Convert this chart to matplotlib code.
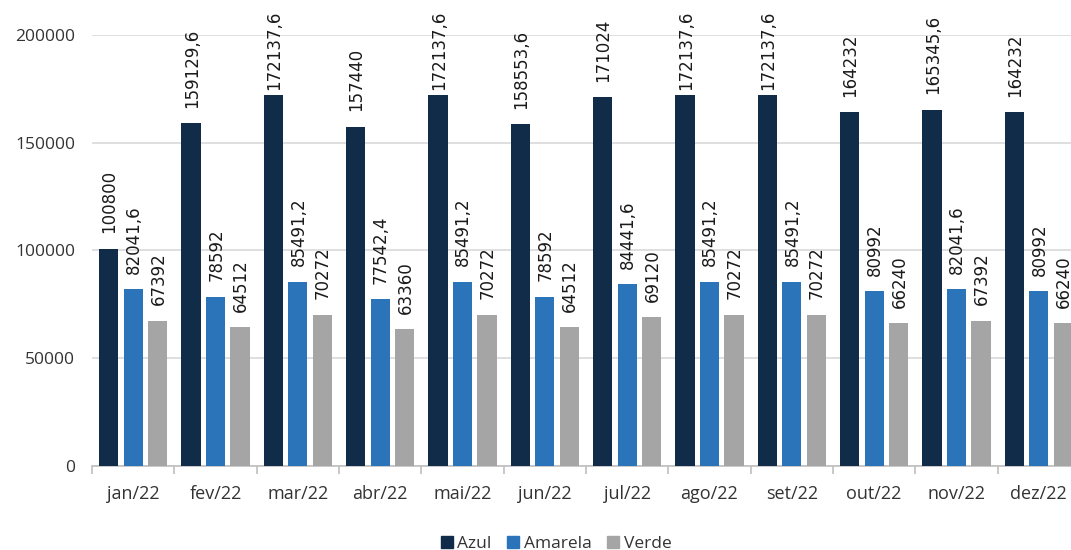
import numpy as np
import matplotlib.pyplot as plt
from matplotlib.patches import Patch
from matplotlib.ticker import MultipleLocator, FixedLocator

# meses e valores por série
meses = ["jan/22", "fev/22", "mar/22", "abr/22", "mai/22", "jun/22",
         "jul/22", "ago/22", "set/22", "out/22", "nov/22", "dez/22"]
azul = [100800, 159129.6, 172137.6, 157440, 172137.6, 158553.6,
        171024, 172137.6, 172137.6, 164232, 165345.6, 164232]
amarela = [82041.6, 78592, 85491.2, 77542.4, 85491.2, 78592,
           84441.6, 85491.2, 85491.2, 80992, 82041.6, 80992]
verde = [67392, 64512, 70272, 63360, 70272, 64512,
         69120, 70272, 70272, 66240, 67392, 66240]

series = [("Azul", azul, "#102c49"),
          ("Amarela", amarela, "#2c74b9"),
          ("Verde", verde, "#a5a5a5")]

def fmt(v):
    # rótulo com vírgula decimal
    s = f"{v:.1f}".rstrip("0").rstrip(".")
    return s.replace(".", ",")

W, H = 1071, 550
fig = plt.figure(figsize=(W / 100, H / 100), dpi=100)
ax = fig.add_axes([92 / W, 84 / H, 988 / W, 431 / H])

x = np.arange(len(meses))
passo = 0.298
larg = 0.232
textos = []
for k, (nome, vals, cor) in enumerate(series):
    xs = x + (k - 1) * passo
    ax.bar(xs, vals, width=larg, color=cor, label=nome, zorder=3)
    for xi, v in zip(xs, vals):
        t = ax.annotate(fmt(v), xy=(xi, v), xytext=(0.5, 11), textcoords="offset points",
                        rotation=90, ha="center", va="bottom", fontsize=12,
                        family="DejaVu Sans", color="#1a1a1a", annotation_clip=False)
        textos.append(t)

ax.set_xlim(-0.5, len(meses) - 0.5)
ax.set_ylim(0, 200000)
ax.yaxis.set_major_locator(MultipleLocator(50000))
ax.grid(axis="y", color="#d9d9d9", linewidth=1.2, zorder=0)

ax.set_xticks(x)
ax.set_xticklabels(meses)
ax.xaxis.set_minor_locator(FixedLocator(np.arange(-0.5, len(meses), 1.0)))
ax.tick_params(axis="x", which="major", length=0, pad=14, labelsize=13, labelcolor="#333333")
ax.tick_params(axis="x", which="minor", length=6, color="#bfbfbf", width=1.2)
ax.tick_params(axis="y", length=0, pad=12, labelsize=12.5, labelcolor="#333333")
for lab in ax.get_xticklabels() + ax.get_yticklabels():
    lab.set_family("Open Sans")

for s in ["top", "right", "left"]:
    ax.spines[s].set_visible(False)
ax.spines["bottom"].set_color("#bfbfbf")
ax.spines["bottom"].set_linewidth(1.2)

handles = [Patch(color=c, label=n) for n, _, c in series]
fig.legend(handles=handles, loc="center", bbox_to_anchor=(556 / W, 6 / H), ncol=3,
           frameon=False, prop={"family": "Open Sans", "size": 12.5},
           handlelength=0.7, handleheight=0.7, handletextpad=0.25, columnspacing=0.9,
           labelcolor="#333333")

# rótulos que passariam do topo ficam encostados na borda
fig.canvas.draw()
r = fig.canvas.get_renderer()
limite = H - 11
for t in textos:
    bb = t.get_window_extent(r)
    if bb.y1 > limite:
        dy = (bb.y1 - limite) * 72 / fig.dpi
        ox, oy = t.xyann
        t.xyann = (ox, oy - dy)

fig.savefig("out.png", dpi=100)
